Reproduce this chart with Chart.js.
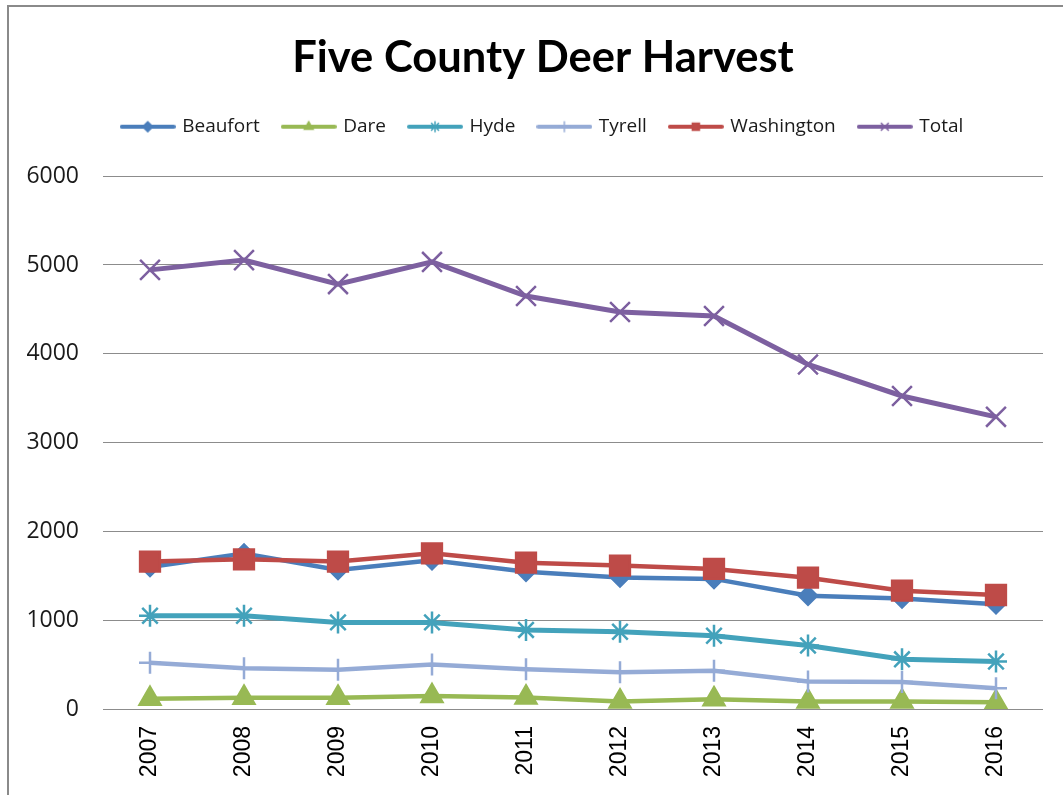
<!DOCTYPE html>
<html>
<head>
<meta charset="utf-8">
<script src="https://cdn.jsdelivr.net/npm/chart.js@4/dist/chart.umd.min.js"></script>
<style>
  html, body { margin: 0; padding: 0; background: #fff; overflow: hidden; }
  #frame { position: absolute; left: 7px; top: 5px; width: 1200px; height: 900px;
           border-left: 2px solid #8a8a8a; border-top: 2px solid #8a8a8a; }
  #wrap { position: absolute; left: 0; top: 0; width: 1063px; height: 795px; }
</style>
</head>
<body>
<div id="frame"></div>
<div id="wrap"><canvas id="chart"></canvas></div>
<script>
const years = ["2007", "2008", "2009", "2010", "2011", "2012", "2013", "2014", "2015", "2016"];
const beaufort   = [1600, 1750, 1565, 1675, 1545, 1480, 1465, 1275, 1245, 1180];
const dare       = [115, 128, 128, 145, 130, 85, 110, 85, 85, 75];
const hyde       = [1050, 1050, 975, 975, 890, 870, 825, 715, 560, 535];
const tyrell     = [520, 458, 443, 500, 447, 413, 430, 310, 305, 233];
const washington = [1660, 1686, 1660, 1753, 1648, 1615, 1577, 1479, 1332, 1284];
const total      = [4945, 5055, 4785, 5035, 4650, 4470, 4425, 3880, 3525, 3290];
const yTicks = [0, 1000, 2000, 3000, 4000, 5000, 6000];

// legend symbol: short line with a small marker in the middle
function legendSymbol(color, style, radius, width) {
  const c = document.createElement("canvas");
  c.width = 56; c.height = 20;
  const g = c.getContext("2d");
  g.strokeStyle = color;
  g.lineWidth = width;
  g.lineCap = "round";
  g.beginPath(); g.moveTo(2, 10); g.lineTo(54, 10); g.stroke();
  g.fillStyle = color;
  g.lineWidth = 1.5;
  Chart.helpers.drawPoint(g, { pointStyle: style, radius: radius, borderWidth: 1.5, rotation: 0 }, 28, 10);
  return c;
}

function series(label, data, color, style, radius, lineWidth, order) {
  return {
    label: label,
    data: data,
    borderColor: color,
    backgroundColor: color,
    borderWidth: lineWidth,
    pointStyle: style,
    pointRadius: radius,
    pointHoverRadius: radius,
    pointBorderWidth: 2.5,
    pointBackgroundColor: color,
    pointBorderColor: color,
    tension: 0,
    order: order,
    legendImg: legendSymbol(color, style, 5, 4)
  };
}

const datasets = [
  series("Beaufort", beaufort, "#4a7ebb", "rectRot", 9, 4.5, 5),
  series("Dare", dare, "#98b954", "triangle", 12, 4.5, 4),
  series("Hyde", hyde, "#43a2bb", "star", 11, 5, 3),
  series("Tyrell", tyrell, "#95abd6", "cross", 11, 4.5, 2),
  series("Washington", washington, "#be4b48", "rect", 14, 4.5, 1),
  series("Total", total, "#7d60a0", "crossRot", 14, 5, 0)
];

new Chart(document.getElementById("chart"), {
  type: "line",
  data: { labels: years, datasets: datasets },
  options: {
    responsive: true,
    maintainAspectRatio: false,
    animation: false,
    layout: { padding: { left: 23, right: 0, top: 0, bottom: 0 } },
    plugins: {
      tooltip: { enabled: false },
      title: {
        display: true,
        text: "Five County Deer Harvest",
        color: "#000",
        font: { family: "Lato, 'Open Sans', sans-serif", size: 43.5, weight: "bold" },
        padding: { top: 32, bottom: 9 }
      },
      legend: {
        display: true,
        position: "top",
        labels: {
          color: "#1a1a1a",
          font: { family: "'Open Sans', sans-serif", size: 19 },
          usePointStyle: true,
          pointStyleWidth: 50,
          boxHeight: 19,
          padding: 24,
          generateLabels: function (chart) {
            const items = Chart.defaults.plugins.legend.labels.generateLabels(chart);
            items.sort((a, b) => a.datasetIndex - b.datasetIndex);
            items.forEach(it => { it.pointStyle = chart.data.datasets[it.datasetIndex].legendImg; });
            return items;
          }
        }
      },
      subtitle: {
        display: true,
        text: " ",
        weight: 500,
        position: "top",
        font: { size: 10 },
        padding: { top: 18, bottom: 0 }
      }
    },
    scales: {
      x: {
        offset: true,
        grid: { display: false, drawTicks: false },
        border: { display: false },
        ticks: {
          color: "#000",
          minRotation: 90,
          maxRotation: 90,
          padding: 17,
          font: { family: "'Liberation Sans', Arial, sans-serif", size: 23 }
        },
        afterFit: function (scale) { scale.height = 86; }
      },
      y: {
        min: 0,
        max: 6000,
        grid: { color: "#8c8c8c", lineWidth: 1, drawTicks: false },
        border: { display: false },
        afterBuildTicks: function (scale) { scale.ticks = yTicks.map(v => ({ value: v })); },
        ticks: {
          color: "#1a1a1a",
          padding: 24,
          font: { family: "'Open Sans', sans-serif", size: 23 },
          callback: function (v) { return String(v); }
        },
        afterFit: function (scale) { scale.width = 80; }
      },
      // empty right-hand spacer so the title and legend stay centred like the original
      spacer: {
        type: "linear",
        position: "right",
        grid: { display: false, drawTicks: false },
        border: { display: false },
        ticks: { display: false },
        afterFit: function (scale) { scale.width = 20; }
      }
    }
  }
});
</script>
</body>
</html>
